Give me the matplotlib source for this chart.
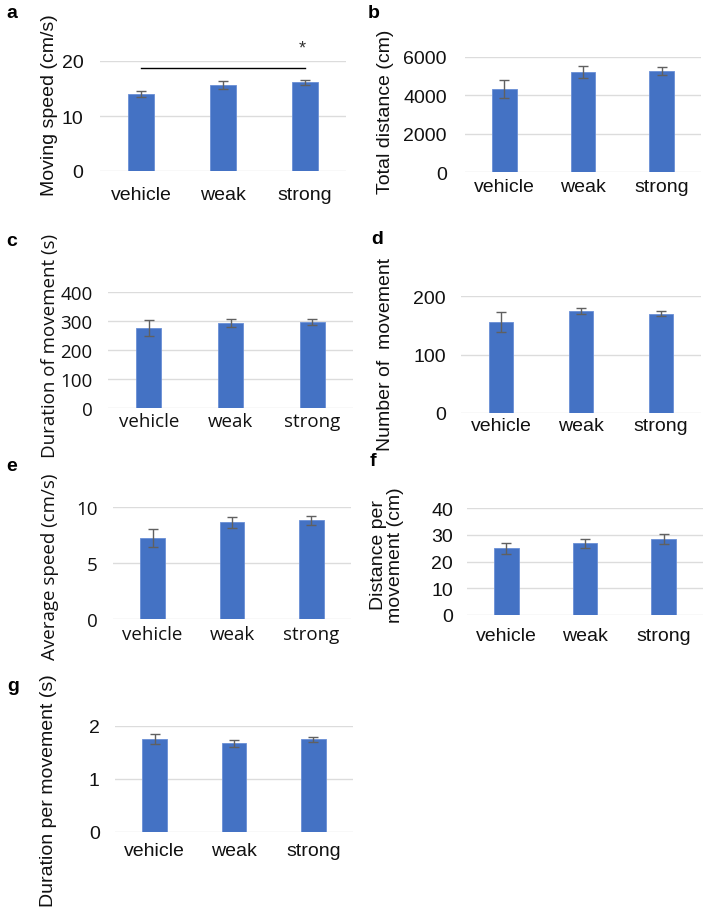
import matplotlib
matplotlib.use("Agg")
import matplotlib.pyplot as plt

plt.rcParams["font.family"] = ["Liberation Sans", "DejaVu Sans"]

groups = ["vehicle", "weak", "strong"]

speed = [14.0, 15.7, 16.1]
speed_err = [0.55, 0.7, 0.5]
distance = [4350, 5200, 5270]
distance_err = [470, 320, 230]
duration = [275, 293, 296]
duration_err = [28, 13, 10]
number = [156, 175, 170]
number_err = [17, 5, 5]
avg_speed = [7.2, 8.63, 8.8]
avg_speed_err = [0.8, 0.5, 0.4]
dist_per = [24.9, 26.8, 28.4]
dist_per_err = [2.2, 1.6, 1.8]
dur_per = [1.75, 1.67, 1.75]
dur_per_err = [0.09, 0.06, 0.05]

W, H = 708, 912
fig = plt.figure(figsize=(W / 100, H / 100), dpi=100)


def box(x0, x1, ytop, ybot):
    return [x0 / W, 1 - ybot / H, (x1 - x0) / W, (ybot - ytop) / H]


def panel(rect, vals, errs, ymax, yticks, ylabel, lab_xy, letter, letter_xy,
          xpad=5, ypad=12, font="Liberation Sans", size=14):
    ax = fig.add_axes(rect)
    ax.bar(groups, vals, width=0.31, color="#4472C4", edgecolor="#6a8fd6",
           linewidth=0.6, zorder=2)
    ax.errorbar(groups, vals, yerr=errs, fmt="none", ecolor="#606060",
                elinewidth=1.0, capsize=3.5, capthick=1.0, zorder=3)
    ax.set_xlim(-0.5, 2.5)
    ax.set_ylim(0, ymax)
    ax.set_yticks(yticks)
    for s in ax.spines.values():
        s.set_visible(False)
    ax.yaxis.grid(True, color="#dcdcdc", linewidth=1.0, zorder=0)
    ax.set_axisbelow(True)
    ax.tick_params(axis="both", length=0, labelsize=size, colors="#111111")
    ax.tick_params(axis="x", pad=xpad)
    ax.tick_params(axis="y", pad=ypad)
    for t in ax.get_xticklabels() + ax.get_yticklabels():
        t.set_fontfamily(font)
    fig.text(lab_xy[0] / W, 1 - lab_xy[1] / H, ylabel, rotation=90,
             ha="center", va="center", fontsize=size, family=font,
             color="#111111", linespacing=1.0)
    fig.text(letter_xy[0] / W, 1 - letter_xy[1] / H, letter, ha="center",
             va="center", fontsize=14, fontweight="bold")
    return ax


ax_a = panel(box(100, 346, 62, 172), speed, speed_err, 20, [0, 10, 20],
             "Moving speed (cm/s)", (50, 105), "a", (12, 13), xpad=11, ypad=12)
ax_a.plot([0, 2], [18.7, 18.7], color="black", linewidth=1.0, clip_on=False)
ax_a.text(1.97, 22.4, "*", ha="center", va="center", fontsize=13,
          color="#333333", clip_on=False)

panel(box(465, 701, 58, 173), distance, distance_err, 6000,
      [0, 2000, 4000, 6000], "Total distance (cm)", (386, 112), "b", (374, 13),
      xpad=4, ypad=13)

panel(box(108, 353, 293, 409), duration, duration_err, 400,
      [0, 100, 200, 300, 400], "Duration of movement (s)", (50, 346), "c",
      (12, 242), xpad=3, ypad=11, font="Open Sans", size=13.5)

panel(box(461, 701, 297, 414), number, number_err, 200, [0, 100, 200],
      "Number of  movement", (386, 354), "d", (377, 240), xpad=3, ypad=11)

panel(box(113, 351, 508, 620), avg_speed, avg_speed_err, 10, [0, 5, 10],
      "Average speed (cm/s)", (50, 567), "e", (12, 467), xpad=4, ypad=11,
      font="Open Sans", size=13.5)

panel(box(467, 703, 509, 616), dist_per, dist_per_err, 40,
      [0, 10, 20, 30, 40], "Distance per\nmovement (cm)", (387, 555), "f",
      (373, 462), xpad=9, ypad=10)

panel(box(115, 353, 727, 833), dur_per, dur_per_err, 2, [0, 1, 2],
      "Duration per movement (s)", (49, 791), "g", (13, 687), xpad=7, ypad=11)

fig.savefig("out.png", dpi=100, facecolor="white")
